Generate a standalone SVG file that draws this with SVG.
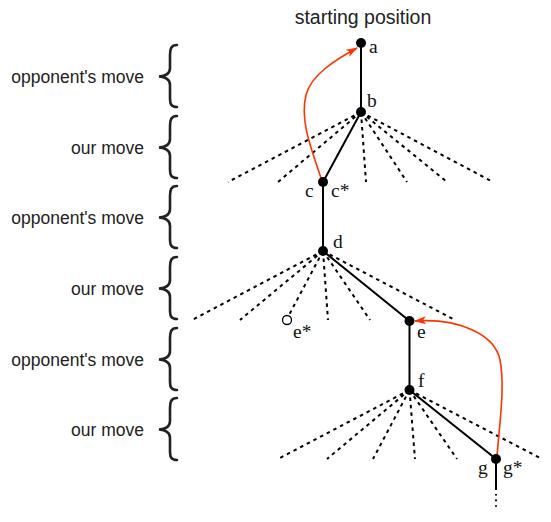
<svg xmlns="http://www.w3.org/2000/svg" width="551" height="522" viewBox="0 0 551 522">
<defs>
<style>
.lbl{font-family:"Liberation Sans",Arial,sans-serif;font-size:17.5px;fill:#222;text-anchor:end}
.title{font-family:"Liberation Sans",Arial,sans-serif;font-size:19.5px;fill:#222;text-anchor:middle}
.nl{font-family:"Liberation Serif","Times New Roman",serif;font-size:19.5px;fill:#111}
.brace{fill:none;stroke:#222;stroke-width:2.6;stroke-linecap:round}
.solid{stroke:#000;stroke-width:2;fill:none}
.dash{stroke:#000;stroke-width:2;stroke-dasharray:3.5 4;fill:none}
.red{stroke:#ff3300;stroke-width:1.6;fill:none}
.node{fill:#000}
</style>
<marker id="ah" viewBox="0 0 12 8" refX="11" refY="4" markerWidth="12" markerHeight="8" markerUnits="userSpaceOnUse" orient="auto">
<path d="M0,0 L12,4 L0,8 L3,4 z" fill="#ff3300"/>
</marker>
<path id="br" d="M177,-31 C171,-31 170,-27 170,-21 L170,-8 C170,-3 166,0 159,0.5 C166,1 170,4 170,9 L170,22 C170,28 171,31 177,31"/>
</defs>

<text class="title" x="363" y="24">starting position</text>

<g id="labels">
<text class="lbl" x="144" y="83">opponent's move</text>
<text class="lbl" x="144" y="154">our move</text>
<text class="lbl" x="144" y="224">opponent's move</text>
<text class="lbl" x="144" y="295">our move</text>
<text class="lbl" x="144" y="366">opponent's move</text>
<text class="lbl" x="144" y="436">our move</text>
</g>

<g id="braces">
<use href="#br" class="brace" transform="translate(0,76)"/>
<use href="#br" class="brace" transform="translate(0,147)"/>
<use href="#br" class="brace" transform="translate(0,217)"/>
<use href="#br" class="brace" transform="translate(0,288)"/>
<use href="#br" class="brace" transform="translate(0,359)"/>
<use href="#br" class="brace" transform="translate(0,429)"/>
</g>

<g id="connectors">
<g class="dash">
<path d="M361,112 L228,182 M361,112 L278,182 M361,112 L366,182 M361,112 L407,182 M361,112 L447,182 M361,112 L493,182"/>
<path d="M323,251 L192,320 M323,251 L240,320 M323,251 L288.5,316 M323,251 L328,320 M323,251 L370,320 M323,251 L455,320"/>
<path d="M409.5,390 L278,459 M409.5,390 L327,459 M409.5,390 L373,459 M409.5,390 L415,459 M409.5,390 L457,459 M409.5,390 L542,459"/>
</g>
<path class="solid" d="M361,43 L361,112 L323,182 L323,251 L409.5,321 L409.5,390 L496,459 L496,490"/>
<path d="M496,494 L496,507" stroke="#000" stroke-width="2" stroke-dasharray="1.6 4"/>
<path class="red" d="M321,178 C310,145 300,120 306,95 C311,75 335,60 357,48" marker-end="url(#ah)"/>
<path class="red" d="M497,456 C500,420 505,385 500,360 C495,335 460,318 415,321" marker-end="url(#ah)"/>
</g>

<g id="node-a"><circle class="node" cx="361" cy="43" r="5"/><text class="nl" x="369" y="53">a</text></g>
<g id="node-b"><circle class="node" cx="361" cy="112" r="5"/><text class="nl" x="367" y="107">b</text></g>
<g id="node-c"><circle class="node" cx="323" cy="182" r="5"/><text class="nl" x="305" y="197">c</text><text class="nl" x="331" y="197">c*</text></g>
<g id="node-d"><circle class="node" cx="323" cy="251" r="5"/><text class="nl" x="333" y="248">d</text></g>
<g id="node-estar"><circle cx="287" cy="320" r="4.5" fill="#fff" stroke="#000" stroke-width="1.3"/><text class="nl" x="293" y="338">e*</text></g>
<g id="node-e"><circle class="node" cx="409.5" cy="321" r="5"/><text class="nl" x="417" y="338">e</text></g>
<g id="node-f"><circle class="node" cx="409.5" cy="390" r="5"/><text class="nl" x="418" y="387">f</text></g>
<g id="node-g"><circle class="node" cx="496" cy="459" r="5"/><text class="nl" x="478" y="474">g</text><text class="nl" x="503" y="474">g*</text></g>
</svg>
